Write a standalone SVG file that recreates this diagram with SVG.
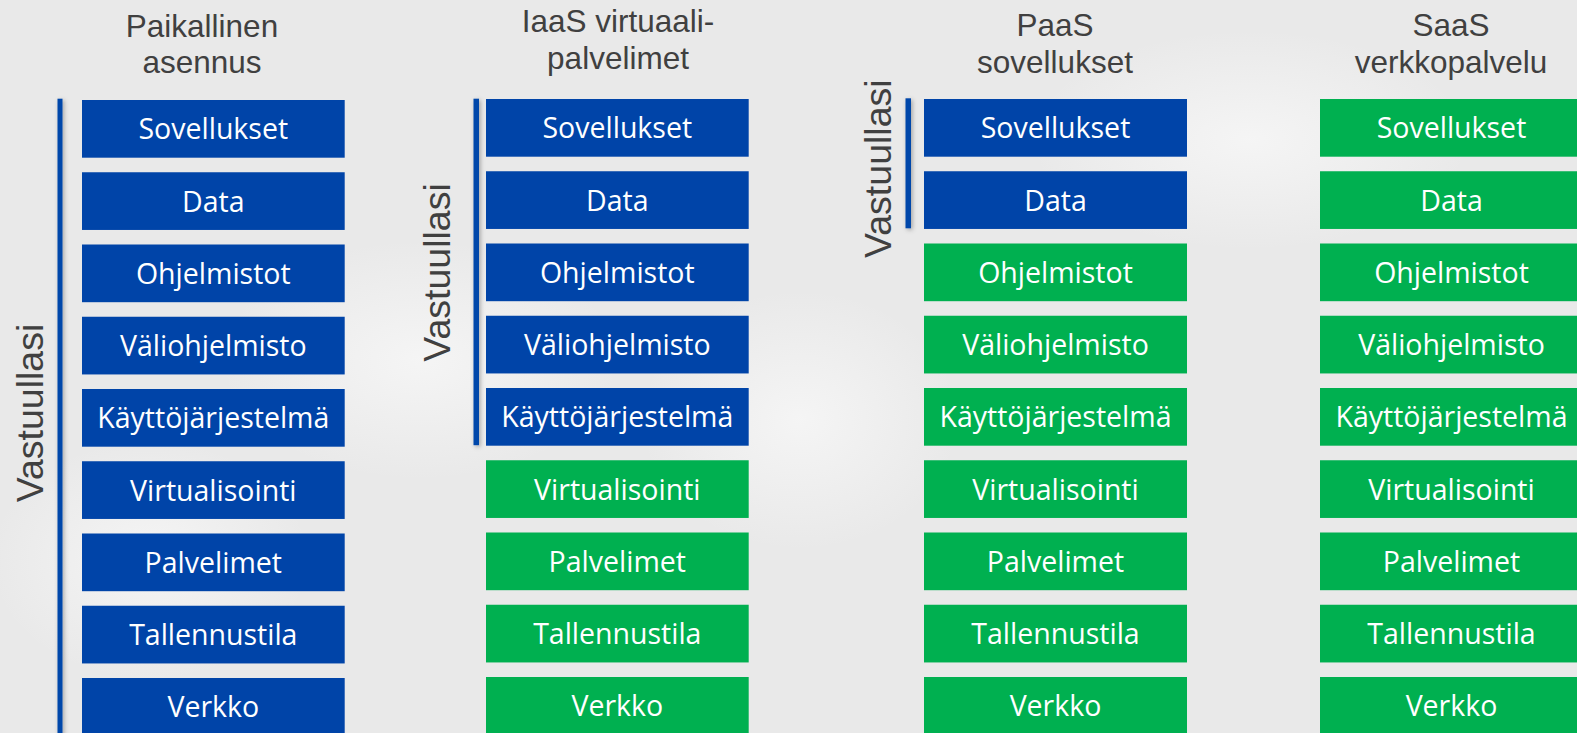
<svg xmlns="http://www.w3.org/2000/svg" width="1577" height="733" viewBox="0 0 1577 733">
<defs>
<style>
.hdr{font-family:"Liberation Sans",Arial,sans-serif;font-size:31.5px;fill:#404040;text-anchor:middle}
.vt{font-family:"Liberation Sans",Arial,sans-serif;font-size:37.5px;fill:#404040;text-anchor:middle}
.bl{fill:#0044a8}
.gr{fill:#00b050}
.lbl{font-family:"Open Sans","Noto Sans",sans-serif;font-size:28.5px;fill:#ffffff;text-anchor:middle}
.bar{fill:#0046aa;filter:url(#sh)}
</style>
<filter id="sh" x="-200%" y="-5%" width="500%" height="110%">
<feDropShadow dx="1.5" dy="1.5" stdDeviation="2" flood-color="#000" flood-opacity="0.3"/>
</filter>
<radialGradient id="g1" cx="0.5" cy="0.5" r="0.5">
<stop offset="0" stop-color="#f6f6f6" stop-opacity="0.9"/>
<stop offset="1" stop-color="#f6f6f6" stop-opacity="0"/>
</radialGradient>
</defs>
<rect width="1577" height="733" fill="#e9e9e9"/>
<ellipse cx="420" cy="360" rx="200" ry="120" fill="url(#g1)"/>
<ellipse cx="1250" cy="140" rx="220" ry="110" fill="url(#g1)"/>
<ellipse cx="800" cy="420" rx="160" ry="130" fill="url(#g1)"/>
<ellipse cx="150" cy="560" rx="160" ry="120" fill="url(#g1)"/>

<g id="headers">
<text class="hdr" x="202" y="36.7">Paikallinen</text>
<text class="hdr" x="202" y="72.7">asennus</text>
<text class="hdr" x="618" y="32.3">IaaS virtuaali-</text>
<text class="hdr" x="618" y="69">palvelimet</text>
<text class="hdr" x="1055" y="36">PaaS</text>
<text class="hdr" x="1055" y="72.7">sovellukset</text>
<text class="hdr" x="1451" y="36">SaaS</text>
<text class="hdr" x="1451" y="72.7">verkkopalvelu</text>
</g>

<g id="connectors">
<rect class="bar" x="57.5" y="98.7" width="5" height="640"/>
<rect class="bar" x="473.5" y="98.7" width="5.5" height="346.5"/>
<rect class="bar" x="905.5" y="98.3" width="5.5" height="130"/>
</g>

<g id="responsibility-labels">
<text class="vt" transform="translate(43.3 413) rotate(-90)">Vastuullasi</text>
<text class="vt" transform="translate(450 272.5) rotate(-90)">Vastuullasi</text>
<text class="vt" transform="translate(890.7 168.7) rotate(-90)">Vastuullasi</text>
</g>

<g id="col-paikallinen">
<g id="c1-r1"><rect class="bl" x="82" y="100" width="262.7" height="57.7"/><text class="lbl" x="213.3" y="139.3">Sovellukset</text></g>
<g id="c1-r2"><rect class="bl" x="82" y="172.25" width="262.7" height="57.7"/><text class="lbl" x="213.3" y="211.55">Data</text></g>
<g id="c1-r3"><rect class="bl" x="82" y="244.5" width="262.7" height="57.7"/><text class="lbl" x="213.3" y="283.8">Ohjelmistot</text></g>
<g id="c1-r4"><rect class="bl" x="82" y="316.75" width="262.7" height="57.7"/><text class="lbl" x="213.3" y="356.05">Väliohjelmisto</text></g>
<g id="c1-r5"><rect class="bl" x="82" y="389" width="262.7" height="57.7"/><text class="lbl" x="213.3" y="428.3">Käyttöjärjestelmä</text></g>
<g id="c1-r6"><rect class="bl" x="82" y="461.25" width="262.7" height="57.7"/><text class="lbl" x="213.3" y="500.55">Virtualisointi</text></g>
<g id="c1-r7"><rect class="bl" x="82" y="533.5" width="262.7" height="57.7"/><text class="lbl" x="213.3" y="572.8">Palvelimet</text></g>
<g id="c1-r8"><rect class="bl" x="82" y="605.75" width="262.7" height="57.7"/><text class="lbl" x="213.3" y="645.05">Tallennustila</text></g>
<g id="c1-r9"><rect class="bl" x="82" y="678" width="262.7" height="60"/><text class="lbl" x="213.3" y="717.3">Verkko</text></g>
</g>

<g id="col-iaas">
<g id="c2-r1"><rect class="bl" x="486" y="99" width="262.7" height="57.7"/><text class="lbl" x="617.3" y="138.3">Sovellukset</text></g>
<g id="c2-r2"><rect class="bl" x="486" y="171.25" width="262.7" height="57.7"/><text class="lbl" x="617.3" y="210.55">Data</text></g>
<g id="c2-r3"><rect class="bl" x="486" y="243.5" width="262.7" height="57.7"/><text class="lbl" x="617.3" y="282.8">Ohjelmistot</text></g>
<g id="c2-r4"><rect class="bl" x="486" y="315.75" width="262.7" height="57.7"/><text class="lbl" x="617.3" y="355.05">Väliohjelmisto</text></g>
<g id="c2-r5"><rect class="bl" x="486" y="388" width="262.7" height="57.7"/><text class="lbl" x="617.3" y="427.3">Käyttöjärjestelmä</text></g>
<g id="c2-r6"><rect class="gr" x="486" y="460.25" width="262.7" height="57.7"/><text class="lbl" x="617.3" y="499.55">Virtualisointi</text></g>
<g id="c2-r7"><rect class="gr" x="486" y="532.5" width="262.7" height="57.7"/><text class="lbl" x="617.3" y="571.8">Palvelimet</text></g>
<g id="c2-r8"><rect class="gr" x="486" y="604.75" width="262.7" height="57.7"/><text class="lbl" x="617.3" y="644.05">Tallennustila</text></g>
<g id="c2-r9"><rect class="gr" x="486" y="677" width="262.7" height="60"/><text class="lbl" x="617.3" y="716.3">Verkko</text></g>
</g>

<g id="col-paas">
<g id="c3-r1"><rect class="bl" x="924" y="99" width="263" height="57.7"/><text class="lbl" x="1055.5" y="138.3">Sovellukset</text></g>
<g id="c3-r2"><rect class="bl" x="924" y="171.25" width="263" height="57.7"/><text class="lbl" x="1055.5" y="210.55">Data</text></g>
<g id="c3-r3"><rect class="gr" x="924" y="243.5" width="263" height="57.7"/><text class="lbl" x="1055.5" y="282.8">Ohjelmistot</text></g>
<g id="c3-r4"><rect class="gr" x="924" y="315.75" width="263" height="57.7"/><text class="lbl" x="1055.5" y="355.05">Väliohjelmisto</text></g>
<g id="c3-r5"><rect class="gr" x="924" y="388" width="263" height="57.7"/><text class="lbl" x="1055.5" y="427.3">Käyttöjärjestelmä</text></g>
<g id="c3-r6"><rect class="gr" x="924" y="460.25" width="263" height="57.7"/><text class="lbl" x="1055.5" y="499.55">Virtualisointi</text></g>
<g id="c3-r7"><rect class="gr" x="924" y="532.5" width="263" height="57.7"/><text class="lbl" x="1055.5" y="571.8">Palvelimet</text></g>
<g id="c3-r8"><rect class="gr" x="924" y="604.75" width="263" height="57.7"/><text class="lbl" x="1055.5" y="644.05">Tallennustila</text></g>
<g id="c3-r9"><rect class="gr" x="924" y="677" width="263" height="60"/><text class="lbl" x="1055.5" y="716.3">Verkko</text></g>
</g>

<g id="col-saas">
<g id="c4-r1"><rect class="gr" x="1320" y="99" width="263" height="57.7"/><text class="lbl" x="1451.5" y="138.3">Sovellukset</text></g>
<g id="c4-r2"><rect class="gr" x="1320" y="171.25" width="263" height="57.7"/><text class="lbl" x="1451.5" y="210.55">Data</text></g>
<g id="c4-r3"><rect class="gr" x="1320" y="243.5" width="263" height="57.7"/><text class="lbl" x="1451.5" y="282.8">Ohjelmistot</text></g>
<g id="c4-r4"><rect class="gr" x="1320" y="315.75" width="263" height="57.7"/><text class="lbl" x="1451.5" y="355.05">Väliohjelmisto</text></g>
<g id="c4-r5"><rect class="gr" x="1320" y="388" width="263" height="57.7"/><text class="lbl" x="1451.5" y="427.3">Käyttöjärjestelmä</text></g>
<g id="c4-r6"><rect class="gr" x="1320" y="460.25" width="263" height="57.7"/><text class="lbl" x="1451.5" y="499.55">Virtualisointi</text></g>
<g id="c4-r7"><rect class="gr" x="1320" y="532.5" width="263" height="57.7"/><text class="lbl" x="1451.5" y="571.8">Palvelimet</text></g>
<g id="c4-r8"><rect class="gr" x="1320" y="604.75" width="263" height="57.7"/><text class="lbl" x="1451.5" y="644.05">Tallennustila</text></g>
<g id="c4-r9"><rect class="gr" x="1320" y="677" width="263" height="60"/><text class="lbl" x="1451.5" y="716.3">Verkko</text></g>
</g>
</svg>
